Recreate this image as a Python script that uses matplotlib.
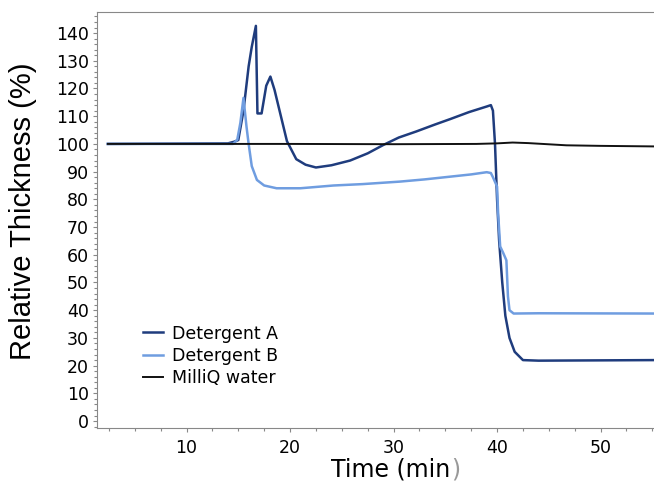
import numpy as np
import matplotlib
matplotlib.use("Agg")
import matplotlib.pyplot as plt
from matplotlib.ticker import MultipleLocator

# data (time in min, relative thickness in %)
t_a = [2.4, 14.0, 14.6, 15.0, 15.5, 16.0, 16.3, 16.7, 16.85, 17.25, 17.7, 18.1, 18.5,
       19.2, 19.7, 20.6, 21.5, 22.5, 24.0, 25.8, 27.5, 29.0, 30.5, 32.2, 34.0, 35.5,
       37.3, 39.0, 39.4, 39.6, 39.8, 40.0, 40.2, 40.5, 40.8, 41.2, 41.7, 42.5, 44.0, 55.2]
v_a = [100.0, 100.2, 100.8, 101.4, 112.0, 128.0, 135.0, 142.6, 111.0, 111.0, 121.0, 124.3, 119.5,
       108.7, 101.0, 94.5, 92.5, 91.5, 92.3, 94.0, 96.6, 99.6, 102.3, 104.5, 107.0, 109.0,
       111.5, 113.5, 114.0, 112.0, 100.0, 80.0, 65.0, 50.0, 38.0, 30.0, 25.0, 22.0, 21.8, 22.0]

t_b = [2.4, 14.5, 14.9, 15.2, 15.5, 15.8, 16.0, 16.3, 16.8, 17.5, 18.7, 21.0, 24.2,
       27.0, 30.6, 33.0, 35.5, 37.5, 39.0, 39.4, 39.6, 40.0, 40.1, 40.3, 40.6, 40.9,
       41.05, 41.2, 41.6, 44.0, 55.2]
v_b = [100.0, 100.0, 101.5, 107.6, 116.6, 106.0, 100.0, 92.0, 87.0, 85.0, 84.0, 84.0, 85.0,
       85.5, 86.4, 87.2, 88.2, 89.0, 89.8, 89.5, 88.0, 84.6, 75.0, 63.0, 60.6, 58.0,
       45.0, 40.0, 38.8, 38.9, 38.8]

t_w = [2.4, 10.0, 20.0, 30.0, 38.0, 40.0, 41.5, 43.0, 46.7, 50.0, 55.2]
v_w = [100.0, 100.0, 100.0, 99.9, 100.0, 100.2, 100.5, 100.3, 99.5, 99.3, 99.1]

plt.rcParams['font.family'] = ['DejaVu Sans']

fig = plt.figure(figsize=(6.54, 4.84), dpi=100)
ax = fig.add_axes([97/654, 56/484, 560/654, 416/484])

ax.plot(t_a, v_a, color='#1f3c7d', lw=1.8, label='Detergent A')
ax.plot(t_b, v_b, color='#6f9de0', lw=1.8, label='Detergent B')
ax.plot(t_w, v_w, color='#111111', lw=1.4, label='MilliQ water')

ax.set_xlim(1.35, 55.45)
ax.set_ylim(-2.5, 147.6)
ax.xaxis.set_major_locator(MultipleLocator(10))
ax.xaxis.set_minor_locator(MultipleLocator(2.5))
ax.yaxis.set_major_locator(MultipleLocator(10))
ax.yaxis.set_minor_locator(MultipleLocator(2))
ax.tick_params(which='both', direction='out', color='#888888', labelsize=12.5, width=0.8)
ax.tick_params(which='major', length=3)
ax.tick_params(which='minor', length=2)
ax.tick_params(axis='x', pad=5)
ax.tick_params(axis='y', pad=3)

for s in ['left', 'bottom', 'top']:
    ax.spines[s].set_color('#888888')
ax.spines['right'].set_visible(False)

# x label, with the grey closing bracket of the original
fig.text(450/654, 8/484, 'Time (min', fontsize=17, ha='right', va='baseline')
fig.text(451/654, 8/484, ')', fontsize=17, ha='left', va='baseline', color='#999999')

ax.set_ylabel('Relative Thickness (%)', fontsize=21, family='Liberation Sans')
ax.yaxis.set_label_coords(-0.107, 0.52)

ax.legend(loc='lower left', bbox_to_anchor=(0.083, 0.098), frameon=False,
          prop={'size': 12.5}, handlelength=1.15,
          handletextpad=0.5, labelspacing=0.25, borderaxespad=0, borderpad=0)

fig.savefig('out.png', dpi=100)
